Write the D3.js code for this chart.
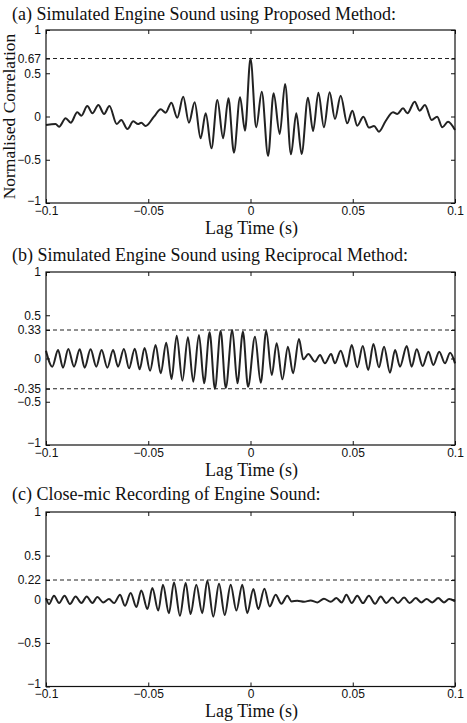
<!DOCTYPE html>
<html><head><meta charset="utf-8">
<script src="https://cdn.jsdelivr.net/npm/d3@7"></script>
<style>html,body{margin:0;padding:0;background:#fff;}svg{display:block;}</style>
</head><body>
<svg id="chart" width="467" height="723"></svg>
<script>
// ---------- data ----------
const titles = [
  "(a) Simulated Engine Sound using Proposed Method:",
  "(b) Simulated Engine Sound using Reciprocal Method:",
  "(c) Close-mic Recording of Engine Sound:"
];
const xLabel = "Lag Time (s)";
const yLabel = "Normalised Correlation";
const xTicks = [-0.1, -0.05, 0, 0.05, 0.1];
const xTickLabels = ["\u22120.1", "\u22120.05", "0", "0.05", "0.1"];

const yTicksA = [-1, -0.5, 0, 0.5, 0.67, 1];
const yTickLabelsA = ["\u22121", "\u22120.5", "0", "0.5", "0.67", "1"];
const yTicksB = [-1, -0.5, -0.35, 0, 0.33, 0.5, 1];
const yTickLabelsB = ["\u22121", "\u22120.5", "-0.35", "0", "0.33", "0.5", "1"];
const yTicksC = [-1, -0.5, 0, 0.22, 0.5, 1];
const yTickLabelsC = ["\u22121", "\u22120.5", "0", "0.22", "0.5", "1"];

const refA = [0.67];
const refB = [0.33, -0.35];
const refC = [0.22];

const lagA = [-0.1, -0.0953, -0.0936, -0.0904, -0.0879, -0.0847, -0.0827, -0.0798, -0.0773, -0.0744, -0.0716, -0.0690, -0.0654, -0.0632, -0.0602, -0.0573, -0.0550, -0.0534, -0.0513, -0.0472, -0.0439, -0.0415, -0.0387, -0.0358, -0.0329, -0.0301, -0.0273, -0.0244, -0.0219, -0.0191, -0.0162, -0.0134, -0.0108, -0.0081, -0.0051, -0.0027, 0, 0.0028, 0.0055, 0.0086, 0.0113, 0.0143, 0.0169, 0.0198, 0.0224, 0.0250, 0.0281, 0.0306, 0.0332, 0.0359, 0.0387, 0.0413, 0.0441, 0.0473, 0.0498, 0.0522, 0.0552, 0.0579, 0.0604, 0.0628, 0.0661, 0.0697, 0.0718, 0.0746, 0.0767, 0.0803, 0.0827, 0.0853, 0.0886, 0.0913, 0.0938, 0.0966, 0.1];
const corrA = [-0.098, -0.087, -0.118, -0.021, -0.071, 0.048, 0.010, 0.121, 0.037, 0.133, 0.029, 0.121, -0.087, -0.040, -0.145, -0.056, -0.087, -0.071, -0.110, -0.002, 0.083, 0.044, 0.160, -0.014, 0.229, -0.071, 0.164, -0.252, 0.037, -0.368, 0.191, -0.252, 0.210, -0.418, 0.222, -0.164, 0.67, -0.125, 0.287, -0.457, 0.268, -0.202, 0.376, -0.437, 0.037, -0.433, 0.218, -0.168, 0.275, -0.125, 0.279, -0.029, 0.241, -0.079, 0.067, -0.106, -0.002, -0.128, -0.110, -0.175, -0.052, 0.048, 0.029, 0.094, 0.037, 0.171, 0.067, 0.133, -0.040, -0.002, -0.125, -0.06, -0.156];

const lagB = [-0.1, -0.0969, -0.0941, -0.0917, -0.0891, -0.0863, -0.0835, -0.0811, -0.0782, -0.0754, -0.0728, -0.0700, -0.0672, -0.0648, -0.0619, -0.0594, -0.0566, -0.0542, -0.0518, -0.0491, -0.0464, -0.0439, -0.0412, -0.0386, -0.0361, -0.0333, -0.0306, -0.0280, -0.0252, -0.0227, -0.0200, -0.0174, -0.0146, -0.0121, -0.0089, -0.0064, -0.0037, -0.0012, 0.0022, 0.0050, 0.0077, 0.0104, 0.0128, 0.0156, 0.0183, 0.0208, 0.0237, 0.0258, 0.0283, 0.0315, 0.0340, 0.0364, 0.0394, 0.0413, 0.0441, 0.0470, 0.0495, 0.0522, 0.0549, 0.0576, 0.0601, 0.0628, 0.0653, 0.0682, 0.0707, 0.0731, 0.0764, 0.0788, 0.0813, 0.0842, 0.0870, 0.0894, 0.0923, 0.0951, 0.0976, 0.1];
const corrB = [0.09, -0.094, 0.098, -0.106, 0.110, -0.094, 0.106, -0.106, 0.106, -0.094, 0.098, -0.106, 0.098, -0.094, 0.110, -0.114, 0.114, -0.125, 0.121, -0.141, 0.156, -0.171, 0.183, -0.237, 0.264, -0.256, 0.245, -0.268, 0.272, -0.287, 0.303, -0.35, 0.318, -0.34, 0.33, -0.287, 0.310, -0.326, 0.252, -0.280, 0.318, -0.191, 0.176, -0.241, 0.137, -0.171, 0.225, -0.010, 0.052, -0.037, 0.040, -0.056, 0.052, -0.056, 0.090, -0.094, 0.156, -0.102, 0.145, -0.133, 0.168, -0.102, 0.137, -0.164, 0.098, -0.094, 0.145, -0.094, 0.106, -0.087, 0.079, -0.075, 0.079, -0.056, 0.067, -0.056];

const lagC = [-0.1, -0.0985, -0.0961, -0.0936, -0.0909, -0.0883, -0.0855, -0.0827, -0.0801, -0.0773, -0.0749, -0.0720, -0.0692, -0.0667, -0.0638, -0.0614, -0.0586, -0.0558, -0.0534, -0.0504, -0.0480, -0.0451, -0.0428, -0.0399, -0.0374, -0.0345, -0.0317, -0.0293, -0.0265, -0.0236, -0.0211, -0.0182, -0.0154, -0.0126, -0.0097, -0.0069, -0.0040, -0.0016, 0.0014, 0.0038, 0.0068, 0.0094, 0.0123, 0.0151, 0.0180, 0.0201, 0.0229, 0.0262, 0.0294, 0.0327, 0.0359, 0.0392, 0.0420, 0.0446, 0.0469, 0.0495, 0.0522, 0.0550, 0.0579, 0.0609, 0.0637, 0.0664, 0.0694, 0.0721, 0.0751, 0.0778, 0.0808, 0.0835, 0.0861, 0.0889, 0.0918, 0.0946, 0.0971, 0.1];
const corrC = [0.013, -0.055, 0.040, -0.044, 0.040, -0.055, 0.032, -0.044, 0.032, -0.044, 0.025, -0.036, 0.002, -0.044, 0.052, -0.075, 0.071, -0.090, 0.101, -0.113, 0.128, -0.13, 0.166, -0.16, 0.193, -0.19, 0.186, -0.17, 0.166, -0.16, 0.212, -0.20, 0.178, -0.18, 0.166, -0.13, 0.166, -0.16, 0.117, -0.113, 0.120, -0.082, 0.052, -0.052, 0.040, -0.025, -0.017, -0.029, -0.013, -0.036, 0.006, -0.029, 0.013, -0.036, 0.052, -0.044, 0.040, -0.044, 0.040, -0.052, 0.032, -0.044, 0.021, -0.044, 0.021, -0.044, 0.013, -0.036, 0.002, -0.036, 0.013, -0.036, 0.002, -0.025];

// ---------- layout ----------
const left = 46, right = 455;
const panels = [
  {title: titles[0], lag: lagA, corr: corrA, yt: yTicksA, ytl: yTickLabelsA, refs: refA, top: 30, bottom: 203, titleY: 20},
  {title: titles[1], lag: lagB, corr: corrB, yt: yTicksB, ytl: yTickLabelsB, refs: refB, top: 272, bottom: 445, titleY: 261},
  {title: titles[2], lag: lagC, corr: corrC, yt: yTicksC, ytl: yTickLabelsC, refs: refC, top: 512, bottom: 686.5, titleY: 500}
];

const svg = d3.select("#chart");
const serif = "'Liberation Serif','Times New Roman',Times,serif";
const sans = "'Liberation Sans',Arial,Helvetica,sans-serif";
const x = d3.scaleLinear().domain([-0.1, 0.1]).range([left, right]);

panels.forEach(p => {
  const y = d3.scaleLinear().domain([-1, 1]).range([p.bottom, p.top]);
  const g = svg.append("g");

  // title
  g.append("text").attr("x", 12).attr("y", p.titleY)
    .attr("font-family", serif).attr("font-size", 18).attr("fill", "#111")
    .text(p.title);

  // reference dashed lines
  p.refs.forEach(r => {
    g.append("line").attr("x1", left).attr("x2", right)
      .attr("y1", y(r)).attr("y2", y(r))
      .attr("stroke", "#222").attr("stroke-width", 1.1)
      .attr("stroke-dasharray", "4,3");
  });

  // waveform
  const pts = p.lag.map((t, i) => [t, p.corr[i]]);
  const line = d3.line().x(d => x(d[0])).y(d => y(d[1])).curve(d3.curveMonotoneX);
  g.append("path").attr("d", line(pts)).attr("fill", "none")
    .attr("stroke", "#222").attr("stroke-width", 2)
    .attr("stroke-linejoin", "round");

  // axes (MATLAB style, ticks inward on all four sides)
  const tl = 4;
  const bottomAxis = d3.axisBottom(x).tickValues(xTicks)
    .tickFormat((d, i) => xTickLabels[i]).tickSizeInner(-tl).tickSizeOuter(0).tickPadding(3);
  const topAxis = d3.axisTop(x).tickValues(xTicks).tickFormat("").tickSizeInner(-tl).tickSizeOuter(0);
  const leftAxis = d3.axisLeft(y).tickValues(p.yt)
    .tickFormat((d, i) => p.ytl[i]).tickSizeInner(-tl).tickSizeOuter(0).tickPadding(5);
  const rightAxis = d3.axisRight(y).tickValues(p.yt).tickFormat("").tickSizeInner(-tl).tickSizeOuter(0);

  const styleAxis = sel => {
    sel.select(".domain").remove();
    sel.selectAll(".tick line").attr("stroke", "#111").attr("stroke-width", 1);
    sel.selectAll(".tick text").attr("font-family", sans).attr("font-size", 12).attr("fill", "#111");
  };
  g.append("g").attr("transform", `translate(0,${p.bottom})`).call(bottomAxis).call(styleAxis);
  g.append("g").attr("transform", `translate(0,${p.top})`).call(topAxis).call(styleAxis);
  const la = g.append("g").attr("transform", `translate(${left},0)`).call(leftAxis).call(styleAxis);
  // lift the bottom "−1" label a little, as in the reference, so it clears the x labels
  la.selectAll(".tick").filter(d => d === -1).select("text").attr("dy", "0.1em");
  g.append("g").attr("transform", `translate(${right},0)`).call(rightAxis).call(styleAxis);

  // frame
  g.append("rect").attr("x", left).attr("y", p.top)
    .attr("width", right - left).attr("height", p.bottom - p.top)
    .attr("fill", "none").attr("stroke", "#111").attr("stroke-width", 1.2);

  // x label
  g.append("text").attr("x", (left + right) / 2 + 1).attr("y", p.bottom + 30.5)
    .attr("text-anchor", "middle").attr("font-family", serif).attr("font-size", 18)
    .attr("fill", "#111").text(xLabel);
});

// y label (shared, beside panel a)
svg.append("text")
  .attr("transform", `translate(15,${(panels[0].top + panels[0].bottom) / 2}) rotate(-90)`)
  .attr("text-anchor", "middle").attr("font-family", serif).attr("font-size", 17.5)
  .attr("fill", "#111").text(yLabel);
</script>
</body></html>
